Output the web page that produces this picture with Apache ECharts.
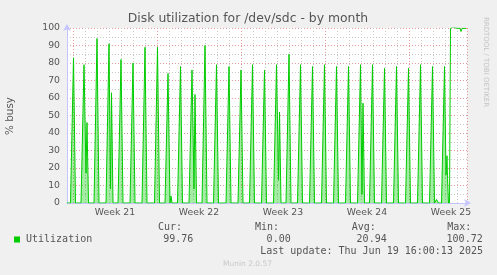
<!DOCTYPE html>
<html><head><meta charset="utf-8">
<script src="https://cdn.jsdelivr.net/npm/echarts@6/dist/echarts.min.js"></script>
<style>html,body{margin:0;padding:0;background:#f0f0f0;}#c{width:497px;height:275px;}</style>
</head><body><div id="c"></div>
<script>
// hours since Mon May 19 2025 00:00
const utilHours = [
  -12, -5, 1, 5,
  16, 22, 26, 28, 31,
  42, 48, 52,
  66, 72, 75, 77, 80,
  90, 96, 100,
  114, 120, 124,
  138, 144, 148,
  163, 169, 173,
  184, 190, 194, 196, 198,
  209, 215, 219,
  232, 238, 242, 244, 247,
  258, 264, 268,
  281, 287, 291,
  306, 312, 316,
  330, 336, 340,
  353, 359, 363,
  377, 383, 387,
  401, 407, 411, 413, 416,
  426, 432, 436,
  449, 455, 459,
  473, 479, 483,
  497, 503, 507,
  521, 527, 531,
  545, 551, 555,
  569, 575, 578, 580, 583,
  593, 599, 603,
  617, 623, 627,
  641, 647, 651,
  665, 671, 675,
  689, 695, 699,
  713, 719, 723, 727, 731,
  737, 743, 746, 748, 749, 751,
  753, 755, 760, 766, 774, 776, 778, 786
];
const utilValues = [
  0, 0, 83, 0,
  0, 79, 17, 46, 0,
  0, 94, 0,
  0, 91, 8, 63, 0,
  0, 82, 0,
  0, 80, 0,
  0, 89, 0,
  0, 89, 0,
  0, 74, 0, 4, 0,
  0, 78, 0,
  0, 76, 8, 62, 0,
  0, 90, 0,
  0, 79, 0,
  0, 78, 0,
  0, 76, 0,
  0, 79, 0,
  0, 76, 0,
  0, 79, 13, 52, 0,
  0, 85, 0,
  0, 79, 0,
  0, 78, 0,
  0, 79, 0,
  0, 78, 0,
  0, 78, 0,
  0, 79, 5, 57, 0,
  0, 79, 0,
  0, 77, 0,
  0, 78, 0,
  0, 77, 0,
  0, 79, 0,
  0, 78, 0, 2, 0,
  0, 78, 16, 27, 14, 0,
  0, 99.7, 100.72, 99.9, 99.8, 98, 99.8, 99.76
];
const plateauStartHour = 753; // the saturated period at the end of the range
const weekLabels = ['Week 21', 'Week 22', 'Week 23', 'Week 24', 'Week 25'];
const legendHeaders = ['Cur:', 'Min:', 'Avg:', 'Max:'];
const legendValues = ['99.76', '0.00', '20.94', '100.72'];
const seriesName = 'Utilization';
const titleText = 'Disk utilization for /dev/sdc - by month';
const yName = '% busy';
const lastUpdate = 'Last update: Thu Jun 19 16:00:13 2025';
const footer = 'Munin 2.0.57';
const sideText = 'RRDTOOL / TOBI OETIKER';

const chart = echarts.init(document.getElementById('c'), null, {renderer: 'canvas'});
const txt = '#555';
const axisCol = '#c4c4ff';
const grayGrid = '#c8c8c8';
const redGrid = '#e49a9a';
const mono = '"DejaVu Sans Mono", monospace';
const sans = '"DejaVu Sans", sans-serif';

const graphics = [
  {type: 'rect', z: -10, silent: true, shape: {x: 67, y: 28, width: 400, height: 175}, style: {fill: '#ffffff'}},
  {type: 'text', x: 248, y: 19, style: {text: titleText, font: '12.4px ' + sans, fill: txt, textAlign: 'center', textVerticalAlign: 'middle'}},
  {type: 'text', x: 10, y: 116, rotation: Math.PI / 2, style: {text: yName, font: '10.4px ' + sans, fill: txt, textAlign: 'center', textVerticalAlign: 'middle'}},
  {type: 'text', x: 486, y: 62, rotation: -Math.PI / 2, style: {text: sideText, font: '7px ' + sans, fill: '#c4c4c4', textAlign: 'center', textVerticalAlign: 'middle'}},
  {type: 'rect', shape: {x: 14, y: 236.5, width: 6, height: 6}, style: {fill: '#00cc00'}},
  {type: 'text', x: 26, y: 239.5, style: {text: seriesName, font: '10px ' + mono, fill: txt, textAlign: 'left', textVerticalAlign: 'middle'}},
  {type: 'text', x: 483, y: 251.7, style: {text: lastUpdate, font: '10px ' + mono, fill: txt, textAlign: 'right', textVerticalAlign: 'middle'}},
  {type: 'text', x: 247.5, y: 264, style: {text: footer, font: '7.5px ' + sans, fill: '#c8c8c8', textAlign: 'center', textVerticalAlign: 'middle'}}
];
const headerX = [158, 255, 351.7, 447.3];
const valueRight = [193.3, 290.7, 386.7, 482.7];
legendHeaders.forEach((h, i) => {
  graphics.push({type: 'text', x: headerX[i], y: 227.3, style: {text: h, font: '10px ' + mono, fill: txt, textAlign: 'left', textVerticalAlign: 'middle'}});
  graphics.push({type: 'text', x: valueRight[i], y: 239.5, style: {text: legendValues[i], font: '10px ' + mono, fill: txt, textAlign: 'right', textVerticalAlign: 'middle'}});
});

const allPoints = utilHours.map((h, i) => [h, utilValues[i]]);
const cut = utilHours.indexOf(plateauStartHour);
const spikePoints = allPoints.slice(0, cut + 1);
const plateauPoints = allPoints.slice(cut);

const option = {
  animation: false,
  backgroundColor: '#f0f0f0',
  grid: [
    {left: 67, top: 28, width: 400, height: 175, containLabel: false},
    {left: 73, top: 28, width: 394, height: 175, containLabel: false}
  ],
  xAxis: [
    {gridIndex: 0, type: 'value', min: -12, max: 788, position: 'bottom',
     axisLine: {show: true, onZero: false, lineStyle: {color: axisCol, width: 1}, symbol: ['none', 'arrow'], symbolSize: [6, 7], symbolOffset: [0, 4]},
     axisTick: {show: false}, axisLabel: {show: false}, splitLine: {show: false}},
    {gridIndex: 1, type: 'value', min: 0, max: 788, interval: 84, position: 'bottom',
     axisLine: {show: false, onZero: false}, axisTick: {show: false}, splitLine: {show: false},
     axisLabel: {show: true, margin: 5, color: txt, fontSize: 9.3, fontFamily: sans,
       showMinLabel: false, showMaxLabel: false,
       formatter: v => { const k = (v - 84) / 168; return (Number.isInteger(k) && weekLabels[k]) ? weekLabels[k] : ''; }}},
    {gridIndex: 1, type: 'value', min: 0, max: 788, interval: 24, position: 'top',
     axisLine: {show: false, onZero: false}, axisTick: {show: false}, axisLabel: {show: false},
     splitLine: {show: true, lineStyle: {color: grayGrid, width: 1, type: [1, 2]}}},
    {gridIndex: 1, type: 'value', min: 0, max: 788, interval: 168, position: 'top',
     axisLine: {show: false, onZero: false}, axisTick: {show: false}, axisLabel: {show: false},
     splitLine: {show: true, lineStyle: {color: redGrid, width: 1, type: [1, 2]}}}
  ],
  yAxis: [
    {gridIndex: 0, type: 'value', min: 0, max: 100, interval: 10, position: 'left',
     axisLine: {show: true, onZero: false, lineStyle: {color: axisCol, width: 1}, symbol: ['none', 'arrow'], symbolSize: [6, 7], symbolOffset: [0, 4]},
     axisTick: {show: false},
     axisLabel: {margin: 7, color: txt, fontSize: 9.3, fontFamily: sans},
     splitLine: {show: true, lineStyle: {color: redGrid, width: 1, type: [1, 2]}},
     minorTick: {show: false, splitNumber: 2},
     minorSplitLine: {show: true, lineStyle: {color: grayGrid, width: 1, type: [1, 2]}}},
    {gridIndex: 1, type: 'value', min: 0, max: 100, show: false, axisLine: {onZero: false}}
  ],
  graphic: graphics,
  series: [{
    name: seriesName, type: 'line', xAxisIndex: 0, yAxisIndex: 0,
    data: spikePoints,
    showSymbol: false, symbol: 'none', smooth: false,
    lineStyle: {color: '#00cc00', width: 1},
    areaStyle: {color: 'rgba(0,204,0,0.5)'},
    z: 3
  }, {
    name: seriesName, type: 'line', xAxisIndex: 0, yAxisIndex: 0,
    data: plateauPoints,
    showSymbol: false, symbol: 'none', smooth: false,
    lineStyle: {color: '#00cc00', width: 1},
    z: 3
  }]
};
chart.setOption(option);
</script>
</body></html>
